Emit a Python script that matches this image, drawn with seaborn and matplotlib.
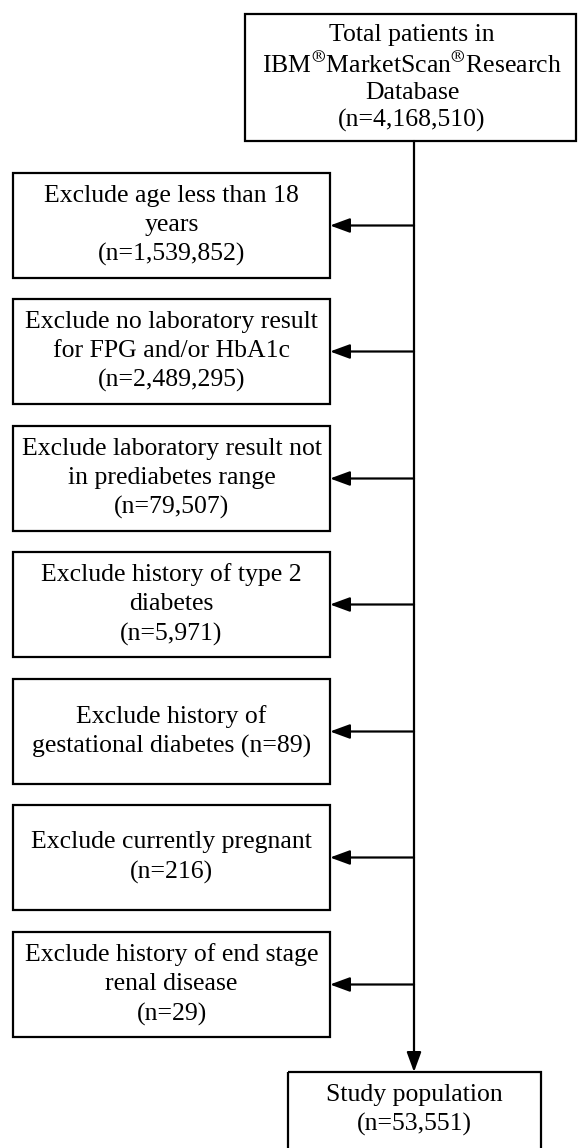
import matplotlib
matplotlib.use("Agg")
import matplotlib.pyplot as plt
import seaborn as sns
from matplotlib.patches import Rectangle

# Data
total_n = 4168510
final_n = 53551
exclusion_labels = [
    "Exclude age less than 18\nyears\n(n={})",
    "Exclude no laboratory result\nfor FPG and/or HbA1c\n(n={})",
    "Exclude laboratory result not\nin prediabetes range\n(n={})",
    "Exclude history of type 2\ndiabetes\n(n={})",
    "Exclude history of\ngestational diabetes (n={})",
    "Exclude currently pregnant\n(n={})",
    "Exclude history of end stage\nrenal disease\n(n={})",
]
exclusion_n = [1539852, 2489295, 79507, 5971, 89, 216, 29]
top_label = "Total patients in\nIBM$^{{®}}$MarketScan$^{{®}}$Research\nDatabase\n(n={})"
final_label = "Study population\n(n={})"

sns.set_theme(style="white")
plt.rcParams['font.family'] = ['Liberation Serif', 'DejaVu Serif']
plt.rcParams['mathtext.fontset'] = 'stix'
plt.rcParams['text.color'] = 'black'

W, H = 578, 1148
fig = plt.figure(figsize=(W / 100, H / 100), dpi=100)
ax = fig.add_axes([0, 0, 1, 1])
ax.set_xlim(0, W)
ax.set_ylim(H, 0)
ax.axis('off')

lw = 1.6
fs = 18.5
spine_x = 414
arrow_kw = dict(arrowstyle="-|>,head_length=0.6,head_width=0.22",
                mutation_scale=20, lw=lw, color='black', shrinkA=0, shrinkB=0)

# Top box
ax.add_patch(Rectangle((245, 14), 331, 127, fill=False, ec='black', lw=lw))
ax.text(412, 78, top_label.format(f"{total_n:,}"), ha='center', va='center',
        fontsize=fs, linespacing=1.28, color='black')

# Exclusion boxes
box_left, box_right = 13, 330
box_h = 105
box_tops = [173, 299, 426, 552, 679, 805, 932]
for top, label, n in zip(box_tops, exclusion_labels, exclusion_n):
    ax.add_patch(Rectangle((box_left, top), box_right - box_left, box_h,
                           fill=False, ec='black', lw=lw))
    yc = top + box_h / 2
    ax.text((box_left + box_right) / 2, yc, label.format(f"{n:,}"),
            ha='center', va='center', fontsize=fs, linespacing=1.42, color='black')
    ax.annotate("", xy=(box_right, yc), xytext=(spine_x, yc), arrowprops=arrow_kw)

# Main vertical line with final arrow
ax.annotate("", xy=(spine_x, 1072), xytext=(spine_x, 141), arrowprops=arrow_kw)

# Final box (cut at bottom)
ax.add_patch(Rectangle((288, 1072), 253, 100, fill=False, ec='black', lw=lw,
                       clip_on=True))
ax.text(414, 1110, final_label.format(f"{final_n:,}"), ha='center', va='center',
        fontsize=fs, linespacing=1.42, color='black')

fig.savefig("out.png", dpi=100)
